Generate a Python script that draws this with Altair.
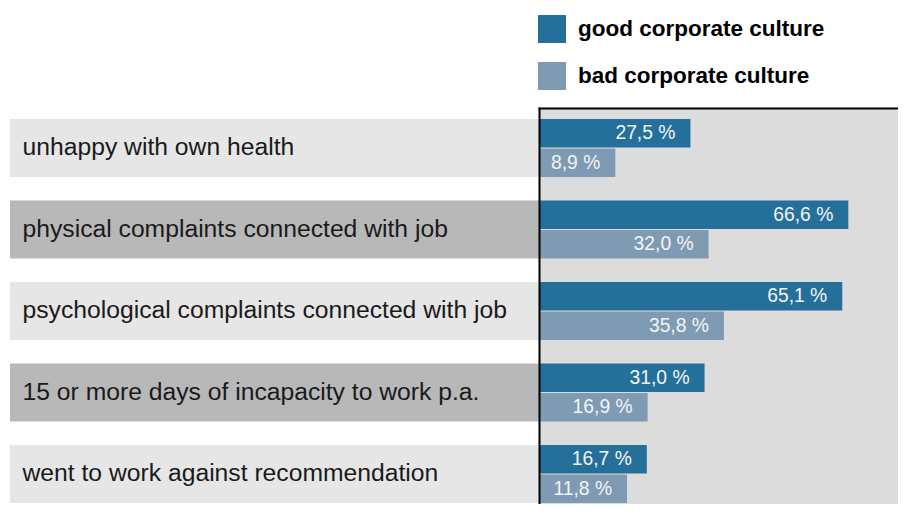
import altair as alt
import pandas as pd

categories = [
    "unhappy with own health",
    "physical complaints connected with job",
    "psychological complaints connected with job",
    "15 or more days of incapacity to work p.a.",
    "went to work against recommendation",
]
good_values = [27.5, 66.6, 65.1, 31.0, 16.7]
bad_values = [8.9, 32.0, 35.8, 16.9, 11.8]
series_names = ["good corporate culture", "bad corporate culture"]

DARK = "#25709a"
LIGHT = "#7f9bb4"
FONT = "Liberation Sans"
X_MIN, X_MAX = -10.0, 78.9

rows = []
for cat, g, b in zip(categories, good_values, bad_values):
    for s, v in zip(series_names, (g, b)):
        rows.append({"category": cat, "series": s, "value": v,
                     "label": f"{v:.1f}".replace(".", ",") + " %"})
bars_df = pd.DataFrame(rows)
band_df = pd.DataFrame({
    "category": categories,
    "shade": ["#e6e6e6" if i % 2 == 0 else "#b8b8b8" for i in range(len(categories))],
})

STEP = 81.5
y_axis = alt.Axis(orient="left", labelAlign="left", labelPadding=517, tickSize=0, ticks=False,
                  domainColor="black", domainWidth=2, domainCap="square", labelFont=FONT,
                  labelFontSize=24.7, labelColor="#1a1a1a", labelLimit=600, labelBaseline="middle",
                  grid=False, zindex=1, title=None)
yenc = alt.Y("category:N", sort=categories, title=None,
             scale=alt.Scale(paddingInner=23.5 / STEP, paddingOuter=6 / STEP, align=11 / 12),
             axis=y_axis)
xenc = alt.X("value:Q", scale=alt.Scale(domain=[X_MIN, X_MAX], zero=False, nice=False),
             axis=alt.Axis(orient="top", labels=False, ticks=False, grid=False, domainColor="black",
                           domainWidth=2, domainCap="square", title=None, zindex=1))
yoff = alt.YOffset("series:N", sort=series_names, scale=alt.Scale(paddingInner=0.03))

bands = alt.Chart(band_df).mark_rect().encode(
    y=yenc,
    x=alt.value(-529),
    x2=alt.value(0),
    fill=alt.Fill("shade:N", scale=None),
)

bars = alt.Chart(bars_df).mark_bar(cornerRadius=0).encode(
    x=xenc,
    x2=alt.datum(X_MIN),
    y=yenc,
    yOffset=yoff,
    color=alt.Color("series:N", sort=series_names,
                    scale=alt.Scale(domain=series_names, range=[DARK, LIGHT]),
                    legend=alt.Legend(title=None, orient="none", legendX=-1, legendY=-93,
                                      symbolType="square", symbolSize=784, symbolStrokeWidth=0,
                                      labelFont=FONT, labelFontSize=22.5, labelFontWeight="bold",
                                      labelColor="black", labelOffset=12, rowPadding=19,
                                      padding=0, labelLimit=400, direction="vertical")),
)

labels = alt.Chart(bars_df).mark_text(align="right", baseline="middle", dx=-15, color="#f4f4f4",
                                      font=FONT, fontSize=19.3).encode(
    x=xenc,
    y=yenc,
    yOffset=yoff,
    text="label:N",
)

chart = alt.layer(bands, bars, labels).properties(
    width=359, height=396,
    padding={"left": 2, "top": 7, "right": 0, "bottom": 0},
    background="white",
).configure_view(stroke=None, fill="#dcdcdc")

chart.save("out.html", embed_options={"renderer": "svg", "actions": False})
